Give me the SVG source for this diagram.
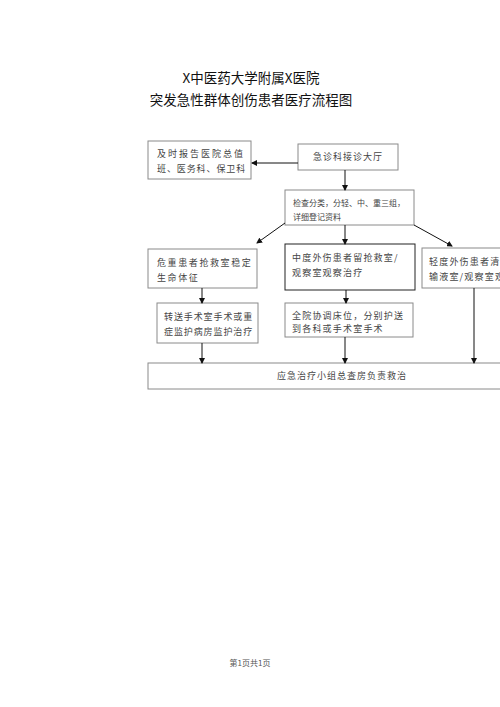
<svg xmlns="http://www.w3.org/2000/svg" width="500" height="707" viewBox="0 0 500 707">
<defs>
<marker id="ah" markerWidth="6" markerHeight="6" refX="5" refY="3" orient="auto" markerUnits="userSpaceOnUse">
<path d="M0,0 L6,3 L0,6 z" fill="#111"/>
</marker>
<style>
.box{fill:#fff;stroke:#8a8a8a;stroke-width:1}
.dark{stroke:#222}
.t{font-family:"Noto Sans CJK SC","Noto Sans CJK JP",sans-serif;font-size:9px;fill:#444}
.s{font-size:8px}
.ttl{font-family:"Noto Sans CJK SC","Noto Sans CJK JP",sans-serif;font-size:13.5px;fill:#111;text-anchor:middle}
.ln{stroke:#111;stroke-width:1;fill:none;marker-end:url(#ah)}
</style>
</defs>
<rect width="500" height="707" fill="#fff"/>
<text class="ttl" x="251" y="83">X中医药大学附属X医院</text>
<text class="ttl" x="251" y="105">突发急性群体创伤患者医疗流程图</text>

<g id="n1"><rect class="box" x="148" y="141" width="103" height="38"/>
<text class="t" x="157" y="157" letter-spacing="2">及时报告医院总值</text>
<text class="t" x="157" y="172" letter-spacing="0.9">班、医务科、保卫科</text></g>

<g id="n2"><rect class="box" x="298" y="144" width="100" height="26"/>
<text class="t" x="313" y="160" letter-spacing="1">急诊科接诊大厅</text></g>

<g id="n3"><rect class="box" x="285" y="190" width="129" height="35"/>
<text class="t s" x="293" y="206">检查分类，分轻、中、重三组，</text>
<text class="t s" x="293" y="220">详细登记资料</text></g>

<g id="n4"><rect class="box" x="148" y="249" width="109" height="39"/>
<text class="t" x="157" y="266" letter-spacing="1.6">危重患者抢救室稳定</text>
<text class="t" x="157" y="281" letter-spacing="1.6">生命体征</text></g>

<g id="n5"><rect class="box dark" x="285" y="244" width="130" height="46"/>
<text class="t" x="292" y="261" letter-spacing="1.2">中度外伤患者留抢救室/</text>
<text class="t" x="292" y="276" letter-spacing="1.2">观察室观察治疗</text></g>

<g id="n6"><rect class="box" x="422" y="248" width="90" height="40"/>
<text class="t" x="429" y="265" letter-spacing="1.2">轻度外伤患者清</text>
<text class="t" x="429" y="280" letter-spacing="1.2">输液室/观察室观</text></g>

<g id="n7"><rect class="box" x="157" y="303" width="101" height="40"/>
<text class="t" x="164" y="320" letter-spacing="0.9">转送手术室手术或重</text>
<text class="t" x="164" y="335" letter-spacing="0.9">症监护病房监护治疗</text></g>

<g id="n8"><rect class="box" x="285" y="303" width="128" height="34"/>
<text class="t" x="292" y="319" letter-spacing="1.2">全院协调床位，分别护送</text>
<text class="t" x="292" y="332" letter-spacing="1.2">到各科或手术室手术</text></g>

<g id="n9"><rect class="box" x="148" y="363" width="360" height="26"/>
<text class="t" x="277" y="379" letter-spacing="1">应急治疗小组总查房负责救治</text></g>

<g id="connectors">
<line class="ln" x1="298" y1="163" x2="252" y2="163"/>
<line class="ln" x1="345" y1="170" x2="345" y2="190"/>
<line class="ln" x1="285" y1="223" x2="257" y2="243"/>
<line class="ln" x1="414" y1="225" x2="452" y2="246"/>
<line class="ln" x1="345" y1="225" x2="345" y2="244"/>
<line class="ln" x1="202" y1="288" x2="202" y2="303"/>
<line class="ln" x1="346" y1="290" x2="346" y2="303"/>
<line class="ln" x1="202" y1="343" x2="202" y2="363"/>
<line class="ln" x1="345" y1="337" x2="345" y2="363"/>
<line class="ln" x1="474" y1="288" x2="474" y2="363"/>
</g>

<text x="250" y="666" font-family="Noto Sans CJK SC,sans-serif" font-size="8" fill="#555" text-anchor="middle">第1页共1页</text>
</svg>
